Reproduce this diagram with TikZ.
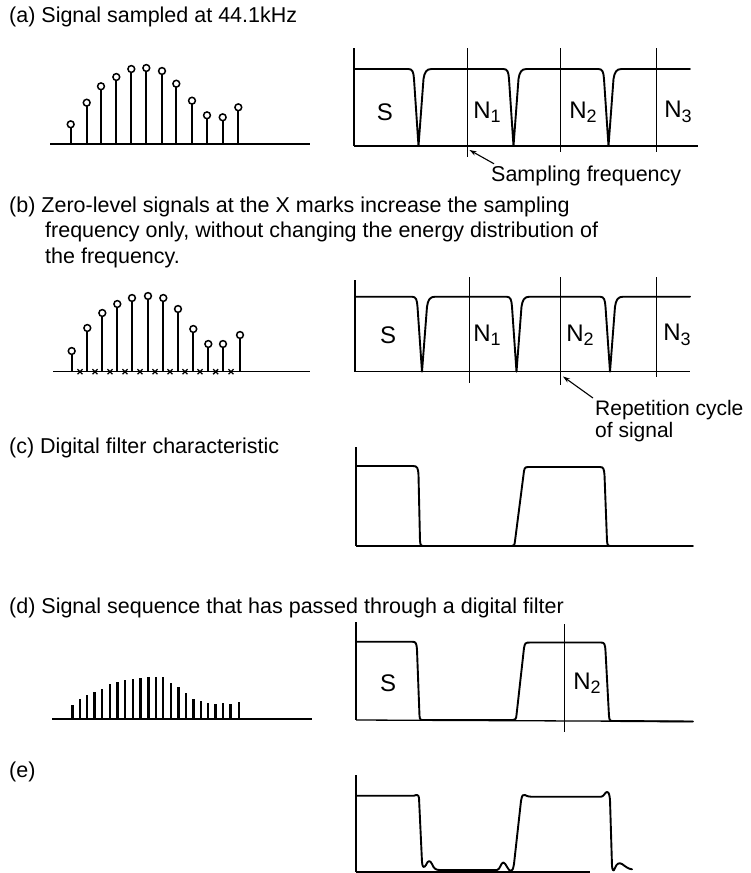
\documentclass[tikz,border=0pt]{standalone}
\usepackage{fontspec}
\setmainfont{Liberation Sans}
\usetikzlibrary{arrows.meta}
\newcommand\nsub[2]{#1\raisebox{-0.35ex}{\fontsize{18}{18}\selectfont #2}}
\begin{document}
\begin{tikzpicture}[x=1pt,y=-1pt,
  curve/.style={line width=1.9pt,line join=round,line cap=round},
  axisline/.style={line width=1.3pt},
  stem/.style={line width=1.9pt},
  bar/.style={line width=2.4pt},
  ttl/.style={anchor=west,inner sep=0pt,font=\fontsize{21.5}{25}\selectfont},
  lbl/.style={inner sep=0pt,font=\fontsize{24}{26}\selectfont},
  note/.style={anchor=west,inner sep=0pt,font=\fontsize{21}{24}\selectfont},
  ptr/.style={line width=1.1pt,-{Stealth[length=7pt,width=4.5pt]}}]
\useasboundingbox (0,0) rectangle (750,873);

% ---------- titles ----------
\node[ttl] (ta) at (9,17) {(a) Signal sampled at 44.1kHz};
\node[ttl] (tb1) at (9,207) {(b) Zero-level signals at the X marks increase the sampling};
\node[ttl] (tb2) at (45,232) {frequency only, without changing the energy distribution of};
\node[ttl] (tb3) at (45,258) {the frequency.};
\node[ttl] (tc) at (9,448) {(c) Digital filter characteristic};
\node[ttl] (td) at (9,608) {(d) Signal sequence that has passed through a digital filter};
\node[ttl] (te) at (9,772) {(e)};

% ---------- (a) left: samples ----------
\draw[axisline] (50,144) -- (310,144);
\foreach \x/\h in {70.7/19.7,86.7/41.3,101/57.7,116.3/67,131.3/75,146.3/76,162/73,176.3/60.3,192/43.3,207/28.7,222.7/26.7,238.3/36.7}{
  \draw[stem] (\x,144) -- (\x,144-\h+3.4);
  \draw[line width=1.5pt,fill=white] (\x,144-\h) circle (3.4);
}

% ---------- (a) right: spectrum ----------
\draw[axisline] (354,48) -- (354,146);
\draw[axisline] (354,146) -- (698,146);
\foreach \v/\b in {467.3/157,560.7/152,656.7/152}{\draw[axisline] (\v,48) -- (\v,\b);}
\draw[curve] (354,69)
  \foreach \d in {418.5,513.5,608.5}{
   -- (\d-10,69) .. controls (\d-6,69) and (\d-5,72) .. (\d-4.5,79) -- (\d,146) -- (\d+5,79) .. controls (\d+6,72) and (\d+8,69) .. (\d+13,69)}
  -- (690,69);
\node[lbl] (sa) at (385,112) {S};
\node[lbl] (n1a) at (487,112) {\nsub{N}{1}};
\node[lbl] (n2a) at (583,112) {\nsub{N}{2}};
\node[lbl] (n3a) at (678,112) {\nsub{N}{3}};
\node[note,font=\fontsize{21.5}{25}\selectfont] (sf) at (491,176) {Sampling frequency};
\coordinate (sfp) at (469.5,150);
\draw[ptr] (sf.north west) ++(3,-2) -- (sfp);

% ---------- (b) left: samples with zeros ----------
\draw[axisline] (53,371.7) -- (310,371.7);
\foreach \x/\h in {71.7/20.7,87.3/43.7,102.3/58.7,117.3/67.7,132/73.7,148/75.7,163.3/73.7,178/62.7,193.3/42.7,208.3/27.7,223/27.7,240/36.7}{
  \draw[stem] (\x,371.7) -- (\x,371.7-\h+3.4);
  \draw[line width=1.5pt,fill=white] (\x,371.7-\h) circle (3.4);
}
\foreach \x in {80,95,110,125,140,155,170,185,200,215.7,231}{
  \draw[line width=1.3pt] (\x-2.5,369.2) -- (\x+2.5,374.2) (\x-2.5,374.2) -- (\x+2.5,369.2);
}

% ---------- (b) right: spectrum ----------
\draw[axisline] (355,280) -- (355,371.7);
\draw[axisline] (355,371.7) -- (690,371.7);
\foreach \v/\b in {469.3/383,560.7/385,656.7/377}{\draw[axisline] (\v,277) -- (\v,\b);}
\draw[curve] (355,296.7)
  \foreach \d in {422,516.5,610}{
   -- (\d-10,296.7) .. controls (\d-6,296.7) and (\d-5,299.7) .. (\d-4.5,306.7) -- (\d,371.7) -- (\d+5,306.7) .. controls (\d+6,299.7) and (\d+8,296.7) .. (\d+13,296.7)}
  -- (690,296.7);
\node[lbl] (sb) at (388,335) {S};
\node[lbl] (n1b) at (487,335) {\nsub{N}{1}};
\node[lbl] (n2b) at (580,335) {\nsub{N}{2}};
\node[lbl] (n3b) at (677,335) {\nsub{N}{3}};
\node[note] (rc1) at (595,410) {Repetition cycle};
\node[note] (rc2) at (595,432) {of signal};
\coordinate (rcp) at (563,376.5);
\draw[ptr] (rc1.north west) ++(-2,-2) -- (rcp);

% ---------- (c) filter ----------
\draw[axisline] (356,447) -- (356,546);
\draw[axisline] (356,546) -- (693,546);
\draw[curve] (356,466) -- (413,466) .. controls (417.5,466) and (418,468) .. (418.5,475) -- (420,541) .. controls (420.5,546) and (421,546) .. (425,546) -- (512,546) .. controls (514,546) and (514.5,545) .. (515,541) -- (524,471) .. controls (524.8,467) and (525.5,467) .. (530,467) -- (600,467) .. controls (603.5,467) and (604,469) .. (604.5,475) -- (607,541) .. controls (607.5,546) and (608,546) .. (612,546) -- (693,546);

% ---------- (d) left: filtered samples ----------
\draw[axisline] (52,719) -- (312,719);
\foreach \x/\h in {72.3/14,79.7/19.7,87/24,94.3/27.3,101.7/30,109.7/34.7,117.3/37,125/39,132.7/39.7,140.3/40.7,148.3/42.3,156/42.3,162.7/41.7,170.7/36.3,178.3/32.3,186/25.7,193.3/19.7,200.7/18,208/16.3,215.3/15,222.7/15.7,230.3/15,239/16.7}{
  \draw[bar] (\x,719) -- (\x,719-\h);
}

% ---------- (d) right ----------
\draw[axisline] (356,622) -- (356,720);
\draw[axisline] (356,720) -- (693,721.5);
\draw[axisline] (564.3,624) -- (564.3,732);
\draw[curve] (356,641.7) -- (412,641.7) .. controls (416,641.7) and (416.5,643) .. (417,650) -- (419.5,716) .. controls (420,720) and (420.5,720) .. (424,720) -- (513,720) .. controls (515.5,720) and (516,719) .. (516.5,715) -- (524,648) .. controls (524.8,643) and (525.5,642.5) .. (530,642.5) -- (601,642.5) .. controls (604.5,642.5) and (605,644) .. (605.5,651) -- (609,716) .. controls (609.5,721) and (610,721) .. (614,721) -- (693,721.5);
\node[lbl] (sd) at (388,683) {S};
\node[lbl] (n2d) at (587,683) {\nsub{N}{2}};

% ---------- (e) output ----------
\draw[axisline] (356,775) -- (356,872);
\draw[line width=1.2pt] (356,872) -- (590,872);
\draw[curve] (356,795.7) -- (414,795.7) .. controls (417,794.5) and (418.5,794.5) .. (419,798) -- (422,862) .. controls (422.5,868) and (424,868) .. (426,865) .. controls (428,860) and (430,860) .. (432,864) .. controls (434,869) and (436,870) .. (440,870) -- (497,870) .. controls (500,870) and (501,862) .. (503.5,862.5) .. controls (506,863) and (508,871) .. (511,871) .. controls (512.5,871) and (513,869) .. (514,864) -- (521,801) .. controls (522,795) and (523,794) .. (525,795) .. controls (527,796) and (528,796.7) .. (531,796.7) -- (601,796.7) .. controls (604,796.7) and (605,792) .. (607,792) .. controls (609,792) and (609.5,795) .. (610,800) -- (612,866) .. controls (612.5,871) and (613.5,872) .. (615,868) .. controls (617,863) and (619,862.5) .. (622,864) .. controls (625,866) and (628,869) .. (632,869.3);
\end{tikzpicture}
\end{document}
